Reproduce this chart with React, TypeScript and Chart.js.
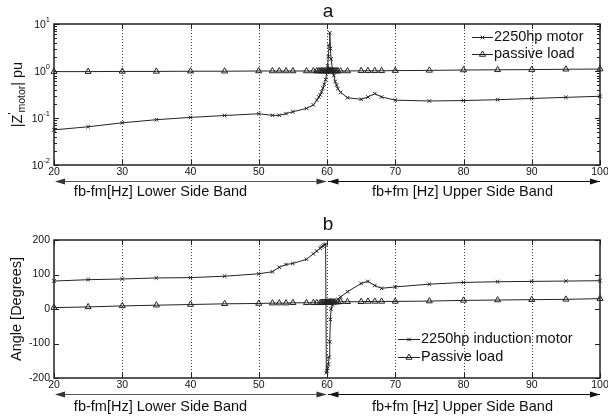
import React, { useEffect, useRef } from "react";
import { Chart, registerables } from "chart.js";
Chart.register(...registerables);

const FONT = '"Liberation Sans", Arial, Helvetica, sans-serif';

// ---------- data ----------
const xTickValues = [20, 30, 40, 50, 60, 70, 80, 90, 100];
const gridXValues = [30, 40, 50, 60, 70, 80, 90];
const magDecades = [0.01, 0.1, 1, 10];
const magExponents = ["-2", "-1", "0", "1"];
const angleTicks = [-200, -100, 0, 100, 200];

const freqA = [20, 25, 30, 35, 40, 45, 50, 52, 53, 54, 55, 57, 58, 58.5, 58.8, 59, 59.2, 59.4, 59.6, 59.8, 60, 60.1, 60.2, 60.3, 60.4, 60.5, 60.6, 60.8, 61, 61.2, 61.4, 61.6, 62, 63, 65, 66, 67, 68, 70, 75, 80, 85, 90, 95, 100];
const motorMag = [0.056, 0.065, 0.079, 0.092, 0.103, 0.113, 0.123, 0.114, 0.114, 0.124, 0.136, 0.16, 0.19, 0.24, 0.28, 0.31, 0.36, 0.43, 0.52, 0.66, 0.97, 1.3, 2.0, 3.5, 6.5, 3.0, 1.8, 1.1, 0.8, 0.6, 0.5, 0.42, 0.35, 0.27, 0.25, 0.28, 0.33, 0.28, 0.24, 0.23, 0.235, 0.245, 0.26, 0.275, 0.29];
const passiveMag = [0.97, 0.97, 0.98, 0.98, 0.99, 0.99, 1.0, 1.0, 1.0, 1.0, 1.0, 1.0, 1.0, 1.0, 1.0, 1.0, 1.0, 1.0, 1.0, 1.0, 1.0, 1.0, 1.0, 1.0, 1.0, 1.0, 1.0, 1.0, 1.0, 1.0, 1.0, 1.0, 1.0, 1.0, 1.01, 1.01, 1.01, 1.01, 1.02, 1.03, 1.05, 1.06, 1.07, 1.09, 1.1];

const freqB = [20, 25, 30, 35, 40, 45, 50, 52, 53, 54, 55, 57, 58, 58.5, 59, 59.2, 59.4, 59.6, 59.8, 59.9, 60, 60.1, 60.2, 60.3, 60.4, 60.5, 60.6, 60.8, 61, 61.2, 61.6, 62, 63, 65, 66, 67, 68, 70, 75, 80, 85, 90, 95, 100];
const motorAng = [81, 85, 87, 90, 91, 95, 102, 108, 121, 129, 132, 144, 160, 168, 176, 180, 183, 186, 188, -185, -180, -172, -160, -140, -95, -30, 0, 12, 18, 22, 28, 35, 50, 74, 80, 68, 60, 64, 72, 77, 79, 80, 81, 82];
const passiveAng = [4, 6, 9, 11, 13, 15, 16, 17, 17, 17, 18, 18, 18, 18, 18, 18, 19, 19, 19, 19, 19, 19, 19, 19, 20, 20, 20, 20, 20, 20, 20, 21, 21, 21, 22, 22, 22, 22, 23, 25, 26, 27, 28, 30];

const legendA = ["2250hp motor", "passive load"];
const legendB = ["2250hp induction motor", "Passive load"];
const bandLeft = "fb-fm[Hz] Lower Side Band";
const bandRight = "fb+fm [Hz] Upper Side Band";

// ---------- drawing helpers ----------
function drawMarker(ctx: CanvasRenderingContext2D, style: string, x: number, y: number) {
  ctx.beginPath();
  if (style === "crossRot") {
    const r = 2.5 * Math.SQRT1_2;
    ctx.moveTo(x - r, y - r); ctx.lineTo(x + r, y + r);
    ctx.moveTo(x - r, y + r); ctx.lineTo(x + r, y - r);
  } else {
    const r = 3.5;
    let a = 0;
    ctx.moveTo(x + Math.sin(a) * r, y - Math.cos(a) * r);
    a += (2 * Math.PI) / 3;
    ctx.lineTo(x + Math.sin(a) * r, y - Math.cos(a) * r);
    a += (2 * Math.PI) / 3;
    ctx.lineTo(x + Math.sin(a) * r, y - Math.cos(a) * r);
    ctx.closePath();
  }
  ctx.stroke();
}

function arrowHead(ctx: CanvasRenderingContext2D, tipX: number, y: number, dir: number) {
  ctx.beginPath();
  ctx.moveTo(tipX, y);
  ctx.lineTo(tipX - dir * 10, y - 3);
  ctx.lineTo(tipX - dir * 10, y + 3);
  ctx.closePath();
  ctx.fill();
}

type Part = { t: string; size: number; dy: number };

function decorPlugin(o: any) {
  return {
    id: "decor",
    beforeDatasetsDraw(chart: any) {
      const ctx = chart.ctx as CanvasRenderingContext2D;
      const a = chart.chartArea;
      const xs = chart.scales.x;
      ctx.save();
      ctx.strokeStyle = "#444";
      ctx.lineWidth = 1;
      ctx.setLineDash([1, 2]);
      ctx.beginPath();
      for (const v of gridXValues) {
        const px = Math.round(xs.getPixelForValue(v)) + 0.5;
        ctx.moveTo(px, a.top);
        ctx.lineTo(px, a.bottom);
      }
      ctx.stroke();
      ctx.restore();
    },
    afterDraw(chart: any) {
      const ctx = chart.ctx as CanvasRenderingContext2D;
      const a = chart.chartArea;
      const xs = chart.scales.x;
      const ys = chart.scales.y;
      ctx.save();
      ctx.strokeStyle = "#222";
      ctx.fillStyle = "#111";
      ctx.lineWidth = 1;
      ctx.beginPath();
      for (const v of xTickValues) {
        const px = Math.round(xs.getPixelForValue(v)) + 0.5;
        ctx.moveTo(px, a.bottom); ctx.lineTo(px, a.bottom - 5);
        ctx.moveTo(px, a.top); ctx.lineTo(px, a.top + 5);
      }
      for (const v of o.yMajor) {
        const py = Math.round(ys.getPixelForValue(v)) + 0.5;
        ctx.moveTo(a.left, py); ctx.lineTo(a.left + 5, py);
        ctx.moveTo(a.right, py); ctx.lineTo(a.right - 5, py);
      }
      for (const v of o.yMinor) {
        const py = Math.round(ys.getPixelForValue(v)) + 0.5;
        ctx.moveTo(a.left, py); ctx.lineTo(a.left + 3, py);
        ctx.moveTo(a.right, py); ctx.lineTo(a.right - 3, py);
      }
      ctx.stroke();

      // frame
      ctx.lineWidth = 1.5;
      ctx.strokeStyle = "#222";
      ctx.strokeRect(a.left, a.top, a.right - a.left, a.bottom - a.top);

      // x tick labels
      ctx.fillStyle = "#111";
      ctx.font = `10.5px ${FONT}`;
      ctx.textAlign = "center";
      ctx.textBaseline = "middle";
      for (const v of xTickValues) {
        ctx.fillText(String(v), xs.getPixelForValue(v), a.bottom + 7);
      }

      // y tick labels
      ctx.textAlign = "right";
      if (o.logLabels) {
        magDecades.forEach((v, i) => {
          const py = ys.getPixelForValue(v);
          ctx.font = `7.5px ${FONT}`;
          const ew = ctx.measureText(magExponents[i]).width;
          ctx.fillText(magExponents[i], a.left - 4, py - 4);
          ctx.font = `10.5px ${FONT}`;
          ctx.fillText("10", a.left - 4 - ew, py + 1);
        });
      } else {
        ctx.font = `10.5px ${FONT}`;
        for (const v of o.yMajor) {
          ctx.fillText(String(v), a.left - 4, ys.getPixelForValue(v));
        }
      }

      // title
      ctx.font = `19px ${FONT}`;
      ctx.textAlign = "center";
      ctx.textBaseline = "alphabetic";
      ctx.fillText(o.title, (a.left + a.right) / 2 + 1, o.titleY);

      // y label (rotated rich text)
      const parts: Part[] = o.yLabel;
      let total = 0;
      for (const p of parts) { ctx.font = `${p.size}px ${FONT}`; total += ctx.measureText(p.t).width; }
      ctx.save();
      ctx.translate(o.yLabelX, (a.top + a.bottom) / 2);
      ctx.rotate(-Math.PI / 2);
      ctx.textAlign = "left";
      ctx.textBaseline = "middle";
      let cx = -total / 2;
      for (const p of parts) {
        ctx.font = `${p.size}px ${FONT}`;
        ctx.fillText(p.t, cx, p.dy);
        cx += ctx.measureText(p.t).width;
      }
      ctx.restore();

      // legend
      ctx.font = `14.5px ${FONT}`;
      ctx.textAlign = "left";
      ctx.textBaseline = "middle";
      o.legend.forEach((e: any, i: number) => {
        const y = o.legendY[i];
        ctx.strokeStyle = "#222";
        ctx.lineWidth = 1;
        ctx.beginPath();
        ctx.moveTo(o.legendLine[0], y + 0.5);
        ctx.lineTo(o.legendLine[1], y + 0.5);
        ctx.stroke();
        drawMarker(ctx, e.style, (o.legendLine[0] + o.legendLine[1]) / 2, y + 0.5);
        ctx.fillStyle = "#111";
        ctx.fillText(e.text, o.legendTextX, y);
      });

      // band arrows
      const x20 = xs.getPixelForValue(20);
      const x60 = xs.getPixelForValue(60);
      const x100 = xs.getPixelForValue(100);
      const ay = o.arrowY + 0.5;
      ctx.lineWidth = 1;
      ctx.strokeStyle = "#555";
      ctx.fillStyle = "#333";
      ctx.beginPath(); ctx.moveTo(x20 + 2, ay); ctx.lineTo(x60 - 1, ay); ctx.stroke();
      arrowHead(ctx, x20 + 1, ay, -1);
      arrowHead(ctx, x60 - 0.5, ay, 1);
      ctx.strokeStyle = "#111";
      ctx.fillStyle = "#111";
      ctx.beginPath(); ctx.moveTo(x60 + 1, ay); ctx.lineTo(x100, ay); ctx.stroke();
      arrowHead(ctx, x60 + 1.5, ay, -1);
      arrowHead(ctx, x100, ay, 1);

      ctx.font = `14.5px ${FONT}`;
      ctx.textAlign = "center";
      ctx.textBaseline = "middle";
      ctx.fillStyle = "#111";
      ctx.fillText(bandLeft, (x20 + x60) / 2 - 30, o.bandY);
      ctx.fillText(bandRight, (x60 + x100) / 2 - 1, o.bandY);
      ctx.restore();
    },
  };
}

function makeDatasets(freq: number[], motor: number[], passive: number[], labels: string[]) {
  return [
    {
      label: labels[0],
      data: freq.map((f, i) => ({ x: f, y: motor[i] })),
      borderColor: "#222",
      borderWidth: 1,
      pointStyle: "crossRot",
      pointRadius: 2.5,
      pointBorderWidth: 1,
      pointBorderColor: "#222",
      pointBackgroundColor: "rgba(0,0,0,0)",
      fill: false,
      tension: 0,
      clip: false,
    },
    {
      label: labels[1],
      data: freq.map((f, i) => ({ x: f, y: passive[i] })),
      borderColor: "#222",
      borderWidth: 1,
      pointStyle: "triangle",
      pointRadius: 3.5,
      pointBorderWidth: 1,
      pointBorderColor: "#222",
      pointBackgroundColor: "rgba(0,0,0,0)",
      fill: false,
      tension: 0,
      clip: false,
    },
  ];
}

const xScale = {
  type: "linear",
  min: 20,
  max: 100,
  afterFit: (s: any) => { s.height = 0; },
  grid: { display: false },
  border: { display: false },
  ticks: { display: false, stepSize: 10 },
};

function configA(): any {
  const minor: number[] = [];
  for (const d of [0.01, 0.1, 1]) for (let k = 2; k <= 9; k++) minor.push(d * k);
  return {
    type: "line",
    data: { datasets: makeDatasets(freqA, motorMag, passiveMag, legendA) },
    options: {
      animation: false,
      responsive: false,
      devicePixelRatio: 1,
      events: [],
      layout: { padding: { left: 54, right: 8, top: 24, bottom: 40 } },
      plugins: { legend: { display: false }, tooltip: { enabled: false } },
      scales: {
        x: xScale,
        y: {
          type: "logarithmic",
          min: 0.01,
          max: 10,
          afterFit: (s: any) => { s.width = 0; },
          grid: { display: false },
          border: { display: false },
          ticks: { display: false },
        },
      },
    },
    plugins: [
      decorPlugin({
        yMajor: magDecades,
        yMinor: minor,
        logLabels: true,
        title: "a",
        titleY: 17,
        yLabelX: 18,
        yLabel: [
          { t: "|Z", size: 14.5, dy: 0 },
          { t: "'", size: 10, dy: -5 },
          { t: "motor", size: 10.5, dy: 4 },
          { t: "| pu", size: 14.5, dy: 0 },
        ],
        legend: [
          { style: "crossRot", text: legendA[0] },
          { style: "triangle", text: legendA[1] },
        ],
        legendLine: [472, 493],
        legendTextX: 494,
        legendY: [37, 54],
        arrowY: 181,
        bandY: 192,
      }),
    ],
  };
}

function configB(): any {
  return {
    type: "line",
    data: { datasets: makeDatasets(freqB, motorAng, passiveAng, legendB) },
    options: {
      animation: false,
      responsive: false,
      devicePixelRatio: 1,
      events: [],
      layout: { padding: { left: 54, right: 8, top: 35, bottom: 40 } },
      plugins: { legend: { display: false }, tooltip: { enabled: false } },
      scales: {
        x: xScale,
        y: {
          type: "linear",
          min: -200,
          max: 200,
          afterFit: (s: any) => { s.width = 0; },
          grid: { display: false },
          border: { display: false },
          ticks: { display: false, stepSize: 100 },
        },
      },
    },
    plugins: [
      decorPlugin({
        yMajor: angleTicks,
        yMinor: [],
        logLabels: false,
        title: "b",
        titleY: 25,
        yLabelX: 17,
        yLabel: [{ t: "Angle [Degrees]", size: 14.5, dy: 0 }],
        legend: [
          { style: "crossRot", text: legendB[0] },
          { style: "triangle", text: legendB[1] },
        ],
        legendLine: [398, 420],
        legendTextX: 421,
        legendY: [134, 152],
        arrowY: 189,
        bandY: 202,
      }),
    ],
  };
}

function ChartCanvas({ top, height, make }: { top: number; height: number; make: () => any }) {
  const ref = useRef<HTMLCanvasElement>(null);
  useEffect(() => {
    const chart = new Chart(ref.current as HTMLCanvasElement, make());
    return () => chart.destroy();
  }, []);
  return (
    <canvas
      ref={ref}
      width={608}
      height={height}
      style={{ position: "absolute", left: 0, top, width: 608, height }}
    />
  );
}

export default function App() {
  return (
    <div style={{ position: "absolute", left: 0, top: 0, width: 608, height: 418, background: "#fff" }}>
      <ChartCanvas top={0} height={205} make={configA} />
      <ChartCanvas top={205} height={213} make={configB} />
    </div>
  );
}
